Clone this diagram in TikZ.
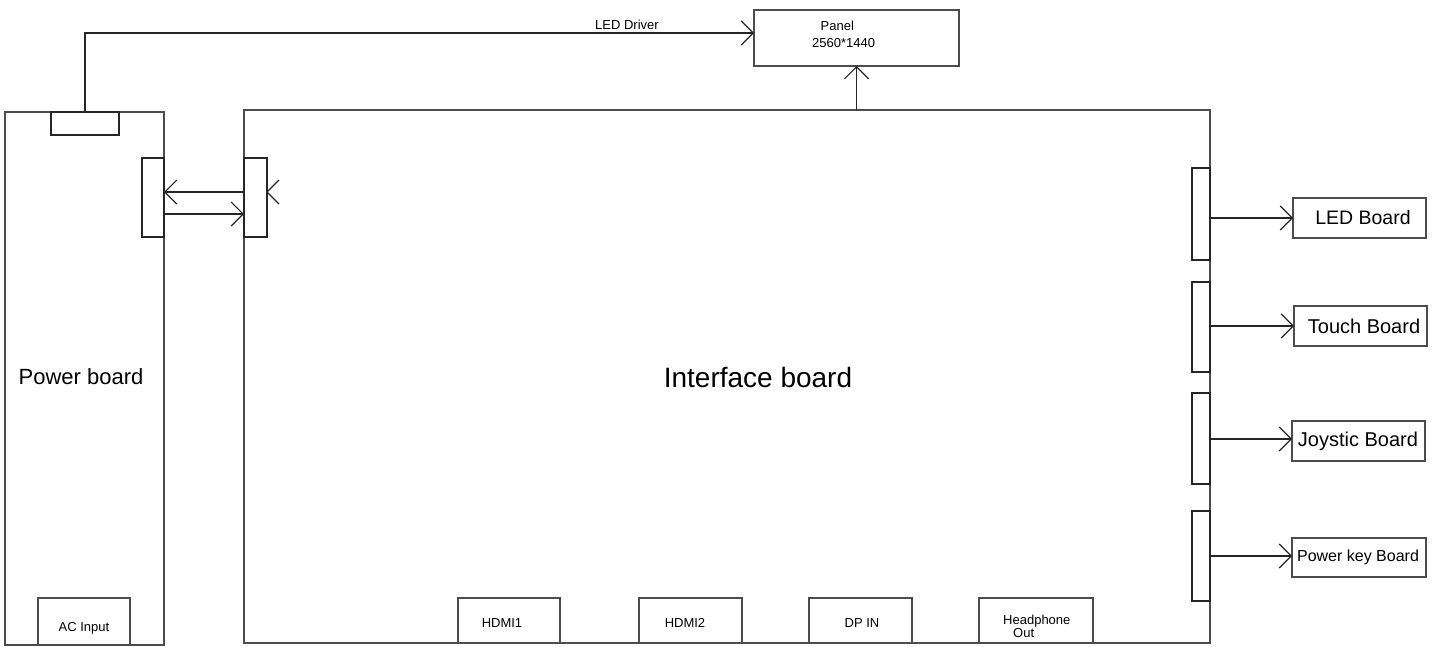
\documentclass[tikz,border=0pt]{standalone}
\usepackage{fontspec}
\setmainfont{Liberation Sans}
\usetikzlibrary{arrows.meta}
\begin{document}
\begin{tikzpicture}[x=1pt,y=-1pt,
  box/.style={draw=black!70, line width=1.2pt, inner sep=0pt, outer sep=0pt, anchor=north west},
  conn/.style={draw=black!85, line width=1.2pt, inner sep=0pt, outer sep=0pt, anchor=north west},
  arr/.style={draw=black!85, line width=1.2pt, -{Straight Barb[length=12pt,width=24pt,line width=1.2pt]}},
  txt/.style={inner sep=0pt, font=\fontsize{13}{15}\selectfont}]
\useasboundingbox (0,0) rectangle (1441,646);
% main boards
\node[box, minimum width=159pt, minimum height=533pt] (power) at (5,112) {};
\node[box, minimum width=966pt, minimum height=533pt] (iface) at (244,110) {};
\node[box, minimum width=205pt, minimum height=56pt] (panel) at (754,10) {};
% connectors
\node[conn, minimum width=68pt, minimum height=23pt] (pc) at (51,112) {};
\node[conn, minimum width=22pt, minimum height=79pt] (pr) at (142,158) {};
\node[conn, minimum width=23pt, minimum height=79pt] (il) at (244,158) {};
\node[conn, minimum width=18pt, minimum height=92pt] (r1) at (1192,168) {};
\node[conn, minimum width=18pt, minimum height=90pt] (r2) at (1192,282) {};
\node[conn, minimum width=18pt, minimum height=91pt] (r3) at (1192,393) {};
\node[conn, minimum width=18pt, minimum height=90pt] (r4) at (1192,511) {};
% right boards
\node[box, minimum width=133pt, minimum height=40pt] (ledb) at (1293,198) {};
\node[box, minimum width=133pt, minimum height=40pt] (touchb) at (1294,306) {};
\node[box, minimum width=133pt, minimum height=40pt] (joyb) at (1292,421) {};
\node[box, minimum width=134pt, minimum height=39pt] (pkb) at (1292,538) {};
% bottom boxes
\node[box, minimum width=92pt, minimum height=47pt] (ac) at (38,598) {};
\node[box, minimum width=102pt, minimum height=45pt] (hdmi1) at (458,598) {};
\node[box, minimum width=103pt, minimum height=45pt] (hdmi2) at (639,598) {};
\node[box, minimum width=103pt, minimum height=45pt] (dp) at (809,598) {};
\node[box, minimum width=114pt, minimum height=45pt] (hp) at (979,598) {};
% texts
\node[inner sep=0pt, font=\fontsize{22}{26}\selectfont] (tpower) at (81,377) {Power board};
\node[inner sep=0pt, font=\fontsize{28}{32}\selectfont] (tiface) at (758,377) {Interface board};
\node[inner sep=0pt, font=\fontsize{13}{17}\selectfont, align=left, anchor=north west] (tpanel) at (812,21) {\hspace{8.5pt}Panel\\2560*1440};
\node[txt] (tled) at (627,25) {LED Driver};
\node[inner sep=0pt, font=\fontsize{19.5}{22}\selectfont] (tledb) at (1363,218) {LED Board};
\node[inner sep=0pt, font=\fontsize{20}{22}\selectfont] (ttouch) at (1364,326) {Touch Board};
\node[inner sep=0pt, font=\fontsize{20}{22}\selectfont] (tjoy) at (1358,441) {Joystic Board};
\node[inner sep=0pt, font=\fontsize{16}{18}\selectfont] (tpk) at (1358,557) {Power key Board};
\node[txt] (tac) at (84,628) {AC Input};
\node[txt] (th1) at (502,623) {HDMI1};
\node[txt] (th2) at (685,623) {HDMI2};
\node[txt] (tdp) at (862,623) {DP IN};
\node[inner sep=0pt, font=\fontsize{13}{13}\selectfont, align=left, anchor=north west] (thp) at (1003,615) {Headphone\\\hspace{10pt}Out};
% connectors
\draw[arr] (pc.north) |- (panel.west |- 0,33);
\draw[arr] (panel.south |- iface.north) -- (panel.south);
\draw[arr] (il.west |- 0,192) -- (pr.east |- 0,192);
\draw[arr] (pr.east |- 0,214) -- (il.west |- 0,214);
\coordinate (ilt) at (il.east |- 0,192);
\draw[draw=black!85, line width=1.2pt] (ilt) ++(12,-12) -- (ilt) -- ++(12,12);
\draw[arr] (r1.east |- ledb.west) -- (ledb.west);
\draw[arr] (r2.east |- touchb.west) -- (touchb.west);
\draw[arr] (r3.east |- 0,439) -- (joyb.west |- 0,439);
\draw[arr] (r4.east |- 0,556) -- (pkb.west |- 0,556);
\end{tikzpicture}
\end{document}
